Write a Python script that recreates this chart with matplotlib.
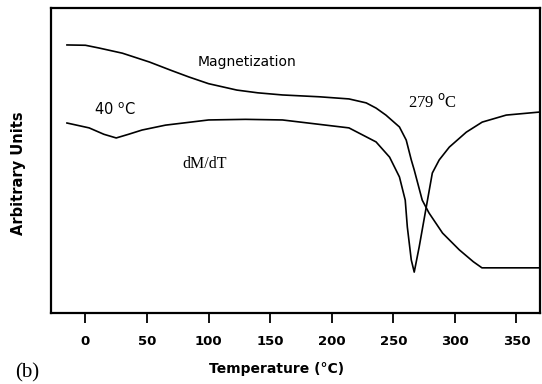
import matplotlib.pyplot as plt

# Magnetization curve (arbitrary units 0-100)
mag_T = [-15, 0, 11, 30, 52, 70, 84, 100, 123, 140, 160, 190, 214, 228, 236, 244,
         255, 260.5, 264.6, 267, 273.5, 279, 290, 303.6, 315, 322, 335, 369]
mag_y = [87.9, 87.8, 86.9, 85.2, 82.3, 79.5, 77.4, 75.2, 73.1, 72.2, 71.5, 70.9, 70.2, 68.9, 67.2, 64.9,
         61.0, 56.7, 50.2, 46.9, 37.0, 32.8, 26.2, 20.7, 16.8, 14.8, 14.8, 14.8]

# dM/dT curve
dmdt_T = [-15, 3, 15, 25, 35, 46, 65, 100, 130, 160, 187, 214, 236, 247, 255,
          259.7, 261.4, 264.6, 267, 271, 276.8, 281.7, 287.3, 295.5, 309.3, 322.2, 341.7, 369]
dmdt_y = [62.3, 60.7, 58.6, 57.4, 58.6, 60.0, 61.6, 63.3, 63.5, 63.3, 62.0, 60.7, 56.1, 51.1, 44.6,
          37.0, 28.2, 17.4, 13.4, 21.6, 34.8, 45.9, 50.2, 54.4, 59.3, 62.6, 64.9, 65.9]

xticks = [0, 50, 100, 150, 200, 250, 300, 350]

fig = plt.figure(figsize=(5.42, 3.84), dpi=100)
ax = fig.add_axes([0.094, 0.185, 0.902, 0.794])

ax.plot(mag_T, mag_y, color='black', linewidth=1.2)
ax.plot(dmdt_T, dmdt_y, color='black', linewidth=1.2)

ax.set_xlim(-28, 369)
ax.set_ylim(0, 100)
ax.set_xticks(xticks)
ax.set_yticks([])
ax.tick_params(axis='x', direction='out', length=7, width=1.3, pad=9)
for lbl in ax.get_xticklabels():
    lbl.set_fontweight('heavy')
    lbl.set_fontsize(9.5)
for sp in ax.spines.values():
    sp.set_linewidth(1.6)

# axis titles
fig.text(0.511, 0.039, 'Temperature (°C)', fontsize=10, fontweight='bold',
         ha='center', va='center')
fig.text(0.035, 0.549, 'Arbitrary Units', fontsize=10.5, fontweight='bold',
         rotation=90, ha='center', va='center')

# annotations
ax.text(131, 82.3, 'Magnetization', fontsize=10, ha='center', va='center')
ax.text(24, 66.8, '40 $^{\\mathrm{o}}$C', fontsize=10.5, ha='center', va='center')
ax.text(97, 48.9, 'dM/dT', fontsize=11.5, ha='center', va='center', family='Liberation Serif')
ax.text(282, 69.2, '279 $^{\\mathrm{o}}$C', fontsize=12, ha='center', va='center',
        family='Liberation Serif')

fig.text(0.028, 0.03, '(b)', fontsize=15, family='Liberation Serif', ha='left', va='center')

fig.savefig('out.png', dpi=100)
